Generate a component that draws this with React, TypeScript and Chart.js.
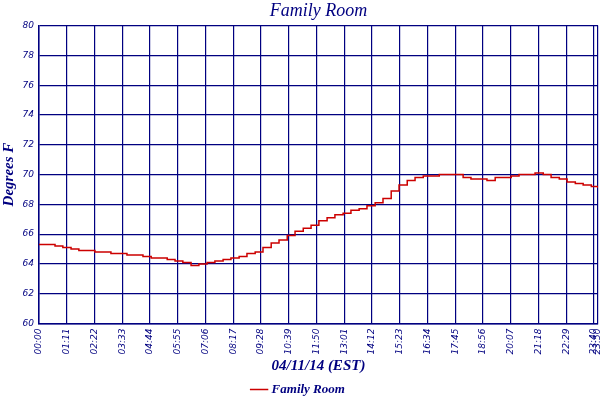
import React, { useEffect, useRef } from 'react';
import { Chart, registerables, ChartConfiguration } from 'chart.js';

Chart.register(...registerables);

const seriesName = 'Family Room';

// minutes after midnight
const minutes = [
  0, 20, 41, 61, 82, 102, 123, 143, 164, 184, 205, 225, 246, 266, 287, 307, 328, 348,
  368, 389, 409, 430, 450, 471, 491, 512, 532, 553, 573, 594, 614, 635, 655, 676, 696,
  716, 737, 757, 778, 798, 819, 839, 860, 880, 901, 921, 942, 962, 983, 1003, 1024,
  1044, 1064, 1085, 1105, 1126, 1146, 1167, 1187, 1208, 1228, 1249, 1269, 1290, 1310,
  1331, 1351, 1372, 1392, 1413, 1430,
];

const temps = [
  65.3, 65.3, 65.2, 65.1, 65.0, 64.9, 64.9, 64.8, 64.8, 64.7, 64.7, 64.6, 64.6, 64.5,
  64.4, 64.4, 64.3, 64.2, 64.1, 63.9, 64.0, 64.1, 64.2, 64.3, 64.4, 64.5, 64.7, 64.8,
  65.1, 65.4, 65.6, 65.9, 66.2, 66.4, 66.6, 66.9, 67.1, 67.3, 67.4, 67.6, 67.7, 67.9,
  68.1, 68.4, 68.9, 69.3, 69.6, 69.8, 69.9, 69.9, 70.0, 70.0, 70.0, 69.8, 69.7, 69.7,
  69.6, 69.8, 69.8, 69.9, 70.0, 70.0, 70.1, 70.0, 69.8, 69.7, 69.5, 69.4, 69.3, 69.2,
  69.1,
];

const xTickLabels = [
  '00:00', '01:11', '02:22', '03:33', '04:44', '05:55', '07:06', '08:17', '09:28',
  '10:39', '11:50', '13:01', '14:12', '15:23', '16:34', '17:45', '18:56', '20:07',
  '21:18', '22:29', '23:40', '23:50',
];

const toMinutes = (s: string) => {
  const [h, m] = s.split(':').map(Number);
  return h * 60 + m;
};

const navy = '#000080';

const App: React.FC = () => {
  const canvasRef = useRef<HTMLCanvasElement>(null);

  useEffect(() => {
    document.body.style.margin = '0';
    const ctx = canvasRef.current!.getContext('2d')!;
    const tickValues = xTickLabels.map(toMinutes);

    const config: ChartConfiguration<'line'> = {
      type: 'line',
      data: {
        datasets: [
          {
            label: seriesName,
            data: minutes.map((m, i) => ({ x: m, y: temps[i] })),
            borderColor: '#cc0000',
            backgroundColor: '#cc0000',
            borderWidth: 1.5,
            pointRadius: 0,
            stepped: true,
          },
        ],
      },
      options: {
        animation: false,
        responsive: false,
        layout: { padding: { left: 0, right: 2, top: 0, bottom: -6 } },
        plugins: {
          title: {
            display: true,
            fullSize: false,
            text: 'Family Room',
            color: navy,
            font: { family: 'Liberation Serif', style: 'italic', size: 18, weight: 'normal' },
            padding: { top: 0, bottom: 4 },
          },
          legend: {
            position: 'bottom',
            labels: {
              color: navy,
              usePointStyle: true,
              pointStyle: 'line',
              boxWidth: 12,
              padding: 2.5,
              font: { family: 'Liberation Serif', style: 'italic', weight: 'bold', size: 13 },
            },
          },
          tooltip: { enabled: false },
        },
        scales: {
          x: {
            type: 'linear',
            min: 0,
            max: tickValues[tickValues.length - 1],
            afterBuildTicks: (scale: any) => {
              scale.ticks = tickValues.map((v) => ({ value: v }));
            },
            afterFit: (scale: any) => {
              scale.height = 57;
              scale.paddingRight = 0;
              scale.paddingLeft = 0;
            },
            ticks: {
              autoSkip: false,
              maxRotation: 90,
              minRotation: 90,
              padding: 5,
              color: navy,
              font: { family: 'DejaVu Sans', style: 'italic', size: 9 },
              callback: (_v: any, i: number) => xTickLabels[i],
            },
            grid: { color: navy, lineWidth: 1.2, drawTicks: false },
            border: { color: navy, width: 1.5 },
            title: {
              display: true,
              text: '04/11/14 (EST)',
              color: navy,
              padding: { top: 0, bottom: 5 },
              font: { family: 'Liberation Serif', style: 'italic', weight: 'bold', size: 15 },
            },
          },
          y: {
            min: 60,
            max: 80,
            afterFit: (scale: any) => {
              scale.width = 39;
            },
            ticks: {
              stepSize: 2,
              padding: 5,
              color: navy,
              font: { family: 'DejaVu Sans', style: 'italic', size: 9 },
            },
            grid: { color: navy, lineWidth: 1.2, drawTicks: false },
            border: { color: navy, width: 1.5 },
            title: {
              display: true,
              text: 'Degrees F',
              color: navy,
              padding: { top: 0, bottom: 0 },
              font: { family: 'Liberation Serif', style: 'italic', weight: 'bold', size: 15 },
            },
          },
        },
      },
    };

    const chart = new Chart(ctx, config);
    return () => {
      chart.destroy();
    };
  }, []);

  return (
    <div style={{ width: 600, height: 400, background: '#fff' }}>
      <canvas ref={canvasRef} width={600} height={400} />
    </div>
  );
};

export default App;
